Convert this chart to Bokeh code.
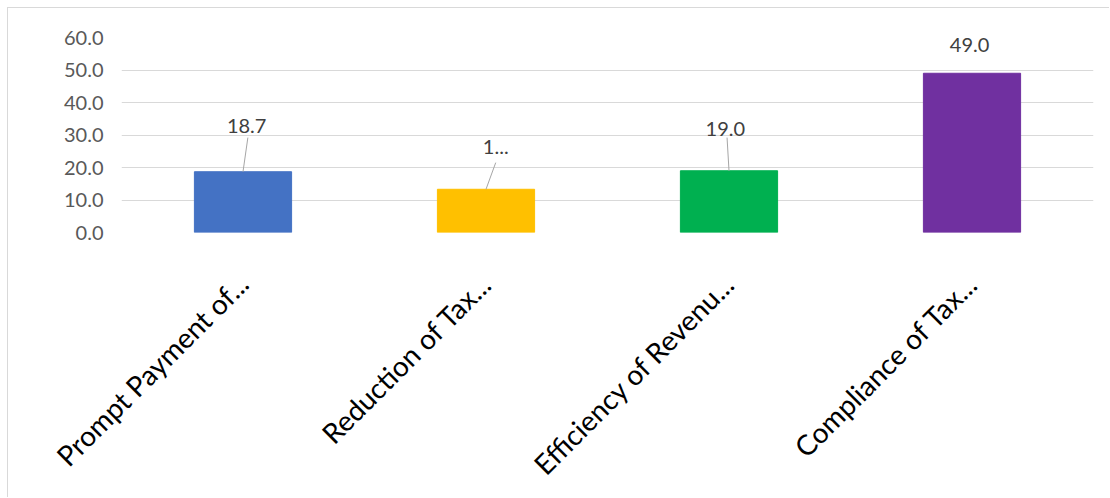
import numpy as np
from bokeh.plotting import figure
from bokeh.models import ColumnDataSource, FixedTicker, PrintfTickFormatter
from bokeh.core.properties import value
from bokeh.embed import file_html
from bokeh.resources import INLINE
from math import pi

# ---- data ----
categories = ["Prompt Payment of...", "Reduction of Tax...", "Efficiency of Revenu...", "Compliance of Tax..."]
values = [18.7, 13.3, 19.0, 49.0]
data_labels = ["18.7", "1...", "19.0", "49.0"]
y_ticks = [0, 10, 20, 30, 40, 50, 60]

# ---- styles ----
colors = ["#4472C4", "#FFC000", "#00B050", "#7030A0"]
label_dx = [0.015, 0.04, -0.015, -0.01]      # category units
label_dy = [14.2, 12.9, 13.0, 8.8]           # data units above bar top
leader_top = [10.5, 8.2, 10.2, None]         # data units above bar top
leader_dx = [0.02, 0.04, -0.008, 0.0]

x = np.arange(len(categories)) + 0.5
src = ColumnDataSource(dict(x=x, top=values, color=colors))

p = figure(width=1102, height=490, x_range=(0, len(categories)), y_range=(0, 60),
           output_backend="svg", toolbar_location=None,
           min_border_left=113, min_border_right=17, min_border_top=29, min_border_bottom=266,
           margin=(7, 0, 0, 7))
p.styles = {"border-left": "1px solid #d9d9d9", "border-top": "1px solid #d9d9d9"}
p.outline_line_color = None
p.background_fill_color = "white"
p.border_fill_color = "white"

p.vbar(x="x", top="top", width=0.4, bottom=0, color="color", source=src)

# leader lines
lx0, ly0, lx1, ly1 = [], [], [], []
for i, v in enumerate(values):
    if leader_top[i] is None:
        continue
    lx0.append(x[i] + leader_dx[i]); ly0.append(v + leader_top[i])
    lx1.append(x[i]); ly1.append(v)
p.segment(x0=lx0, y0=ly0, x1=lx1, y1=ly1, line_color="#a6a6a6", line_width=1)

tsrc = ColumnDataSource(dict(x=x + np.array(label_dx), y=np.array(values) + np.array(label_dy), t=data_labels))
p.text(x="x", y="y", text="t", source=tsrc, text_align="center", text_baseline="middle",
       text_font=value("Lato"), text_font_size="20px", text_color="#404040")

# axes
p.xgrid.visible = False
p.ygrid.grid_line_color = "#d9d9d9"
p.ygrid.grid_line_width = 1
p.yaxis.ticker = FixedTicker(ticks=y_ticks)
p.ygrid.ticker = FixedTicker(ticks=y_ticks)
p.yaxis.formatter = PrintfTickFormatter(format="%.1f")
p.yaxis.axis_line_color = None
p.yaxis.major_tick_line_color = None
p.yaxis.major_tick_out = 0
p.yaxis.major_tick_in = 0
p.yaxis.minor_tick_line_color = None
p.yaxis.major_label_standoff = 18
p.yaxis.major_label_text_font = "Lato"
p.yaxis.major_label_text_font_size = "20px"
p.yaxis.major_label_text_color = "#595959"

p.xaxis.ticker = FixedTicker(ticks=list(x))
p.xaxis.major_label_overrides = {float(xi): c for xi, c in zip(x, categories)}
p.xaxis.axis_line_color = None
p.xaxis.major_tick_line_color = None
p.xaxis.major_tick_out = 0
p.xaxis.major_tick_in = 0
p.xaxis.minor_tick_line_color = None
p.xaxis.major_label_orientation = pi / 4
p.xaxis.major_label_standoff = 46
p.xaxis.major_label_text_font = "Lato"
p.xaxis.major_label_text_font_size = "28px"
p.xaxis.major_label_text_color = "#000000"

open("out.html", "w").write(file_html(p, INLINE))
